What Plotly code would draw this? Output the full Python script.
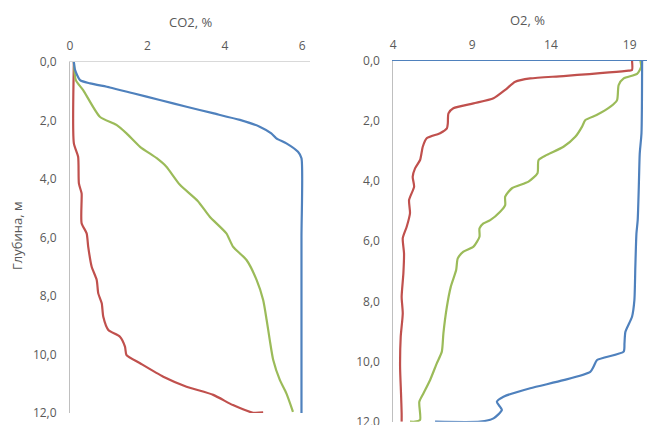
import plotly.graph_objects as go

# ---------- data: CO2 (left panel) ----------
co2_blue_val = [0.1, 0.13, 0.26, 0.52, 1.03, 1.63, 2.32, 3.01, 3.69, 4.39, 4.9, 5.2, 5.33, 5.59, 5.89, 5.98, 5.98, 5.98]
co2_blue_dep = [0.0, 0.27, 0.62, 0.73, 0.87, 1.07, 1.3, 1.53, 1.75, 1.98, 2.21, 2.44, 2.61, 2.78, 3.07, 3.29, 6.0, 12.0]

co2_green_val = [0.1, 0.15, 0.34, 0.77, 1.2, 1.46, 1.81, 2.24, 2.49, 2.84, 3.3, 3.61, 4.04, 4.21, 4.56, 4.82, 4.99,
                 5.08, 5.16, 5.25, 5.42, 5.59, 5.76]
co2_green_dep = [0.0, 0.62, 0.96, 1.87, 2.15, 2.44, 2.9, 3.29, 3.58, 4.2, 4.75, 5.29, 5.86, 6.31, 6.77, 7.45, 8.14,
                 8.82, 9.5, 10.19, 10.87, 11.33, 11.96]

co2_red_val = [0.1, 0.1, 0.21, 0.23, 0.3, 0.3, 0.3, 0.43, 0.47, 0.56, 0.69, 0.73, 0.82, 0.86, 0.99, 1.29, 1.42, 1.46,
               1.81, 2.41, 3.01, 3.7, 4.21, 4.73, 4.99]
co2_red_dep = [0.0, 2.78, 3.24, 4.15, 4.49, 4.72, 5.51, 5.86, 6.31, 7.0, 7.45, 7.91, 8.25, 8.71, 9.16, 9.39, 9.73, 10.02,
               10.3, 10.76, 11.1, 11.38, 11.73, 11.99, 11.98]

# ---------- data: O2 (right panel) ----------
o2_red_val = [19.15, 19.15, 18.94, 14.8, 12.69, 11.74, 11.1, 10.36, 9.09, 7.81, 7.5, 7.46, 7.4, 6.97, 6.12, 5.87, 5.7,
              5.38, 5.23, 5.32, 5.0, 5.06, 4.85, 4.6, 4.68, 4.64, 4.53, 4.6, 4.47, 4.43, 4.49, 4.53, 4.53]
o2_red_dep = [0.0, 0.31, 0.33, 0.51, 0.59, 0.7, 0.97, 1.25, 1.42, 1.58, 1.75, 2.08, 2.25, 2.41, 2.58, 2.86, 3.3,
              3.58, 3.86, 4.19, 4.63, 5.07, 5.52, 5.9, 6.4, 7.07, 7.85, 8.4, 9.18, 10.17, 11.06, 11.72, 12.0]

o2_green_val = [19.68, 19.73, 19.47, 18.62, 18.3, 18.2, 17.78, 16.93, 16.19, 15.98, 15.55, 14.8, 13.75, 13.22, 13.15,
                12.58, 11.53, 11.1, 11.1, 10.78, 10.15, 9.72, 9.47, 9.47, 9.09, 8.45, 8.09, 7.99, 7.65, 7.4, 7.18,
                7.08, 6.76, 6.33, 5.91, 5.65, 5.7, 5.38, 5.06]
o2_green_dep = [0.0, 0.2, 0.44, 0.59, 0.81, 1.31, 1.53, 1.8, 1.97, 2.19, 2.53, 2.86, 3.13, 3.3, 3.74,
                4.02, 4.24, 4.52, 4.8, 5.02, 5.3, 5.41, 5.57, 5.85, 6.18, 6.35, 6.57, 6.96, 7.51, 8.18, 9.06,
                9.67, 10.06, 10.62, 11.06, 11.34, 11.94, 12.0, 12.0]

o2_blue_val = [19.79, 19.75, 19.64, 19.58, 19.51, 19.43, 19.36, 19.3, 19.15, 18.73, 18.67, 18.62, 16.93, 16.71, 16.5,
               14.8, 12.69, 10.99, 10.57, 10.89, 10.36, 9.51, 6.65]
o2_blue_dep = [0.0, 2.41, 3.08, 4.19, 5.3, 5.74, 6.85, 7.96, 8.51, 9.01, 9.4, 9.67, 9.95, 10.17, 10.34,
               10.62, 10.89, 11.17, 11.34, 11.61, 11.89, 12.0, 12.0]

depth_ticks = [0, 2, 4, 6, 8, 10, 12]
depth_labels = ["0,0", "2,0", "4,0", "6,0", "8,0", "10,0", "12,0"]
co2_ticks = [0, 2, 4, 6]
o2_ticks = [4, 9, 14, 19]

BLUE = "#4F81BD"
RED = "#C0504D"
GREEN = "#9BBB59"
TXT = "#595959"
FONT = "Open Sans"

W, H = 648, 425


def px_x(p):
    return p / W


def px_y(p):
    return 1 - p / H


fig = go.Figure()

line_kw = dict(mode="lines", line_shape="spline", showlegend=False, hoverinfo="skip")

fig.add_trace(go.Scatter(x=co2_red_val, y=co2_red_dep, line=dict(color=RED, width=2.2, smoothing=0.6),
                         xaxis="x", yaxis="y", **line_kw))
fig.add_trace(go.Scatter(x=co2_green_val, y=co2_green_dep, line=dict(color=GREEN, width=2.2, smoothing=0.6),
                         xaxis="x", yaxis="y", **line_kw))
fig.add_trace(go.Scatter(x=co2_blue_val, y=co2_blue_dep, line=dict(color=BLUE, width=2.2, smoothing=0.6),
                         xaxis="x", yaxis="y", **line_kw))

fig.add_trace(go.Scatter(x=o2_red_val, y=o2_red_dep, line=dict(color=RED, width=2.2, smoothing=0.6),
                         xaxis="x2", yaxis="y2", **line_kw))
fig.add_trace(go.Scatter(x=o2_green_val, y=o2_green_dep, line=dict(color=GREEN, width=2.2, smoothing=0.6),
                         xaxis="x2", yaxis="y2", **line_kw))
fig.add_trace(go.Scatter(x=o2_blue_val, y=o2_blue_dep, line=dict(color=BLUE, width=2.2, smoothing=0.6),
                         xaxis="x2", yaxis="y2", **line_kw))

tickfont = dict(family=FONT, size=12, color=TXT)
common = dict(showgrid=False, zeroline=False, showline=True, linewidth=1, ticks="",
              tickfont=tickfont, fixedrange=True, automargin=False, ticklabeloverflow="allow")

fig.update_layout(
    template="none",
    width=W, height=H,
    margin=dict(l=0, r=0, t=0, b=0, pad=0),
    paper_bgcolor="white", plot_bgcolor="white",
    font=dict(family=FONT, color=TXT),
    xaxis=dict(domain=[px_x(70), px_x(310)], range=[0, 6.2], side="top", anchor="y",
               tickvals=co2_ticks, ticktext=[str(v) for v in co2_ticks],
               linecolor="#D9D9D9", ticklabelstandoff=6, **common),
    yaxis=dict(domain=[px_y(413), px_y(62)], range=[12, 0], anchor="x",
               tickvals=depth_ticks, ticktext=depth_labels,
               linecolor="#BFBFBF", ticklabelstandoff=10, **common),
    xaxis2=dict(domain=[px_x(393.3), px_x(647)], range=[4, 20.1], side="top", anchor="y2",
                tickvals=o2_ticks, ticktext=[str(v) for v in o2_ticks],
                linecolor=BLUE, ticklabelstandoff=6, **common),
    yaxis2=dict(domain=[px_y(421.7), px_y(60.7)], range=[12, 0], anchor="x2",
                tickvals=depth_ticks, ticktext=depth_labels,
                linecolor="#BFBFBF", ticklabelstandoff=10, **common),
    annotations=[
        dict(text="CO2, %", x=px_x(190), y=px_y(22), xref="paper", yref="paper",
             xanchor="center", yanchor="middle",
             showarrow=False, font=dict(family=FONT, size=13, color=TXT)),
        dict(text="O2, %", x=px_x(527), y=px_y(20), xref="paper", yref="paper",
             xanchor="center", yanchor="middle",
             showarrow=False, font=dict(family=FONT, size=13, color=TXT)),
        dict(text="Глубина, м", x=px_x(17), y=px_y(236), xref="paper", yref="paper",
             xanchor="center", yanchor="middle",
             showarrow=False, textangle=-90, font=dict(family=FONT, size=13, color=TXT)),
    ],
)

fig.write_html("out.html", config={"displayModeBar": False, "staticPlot": True},
               post_script="document.body.style.margin='0px';document.body.style.overflow='hidden';")
